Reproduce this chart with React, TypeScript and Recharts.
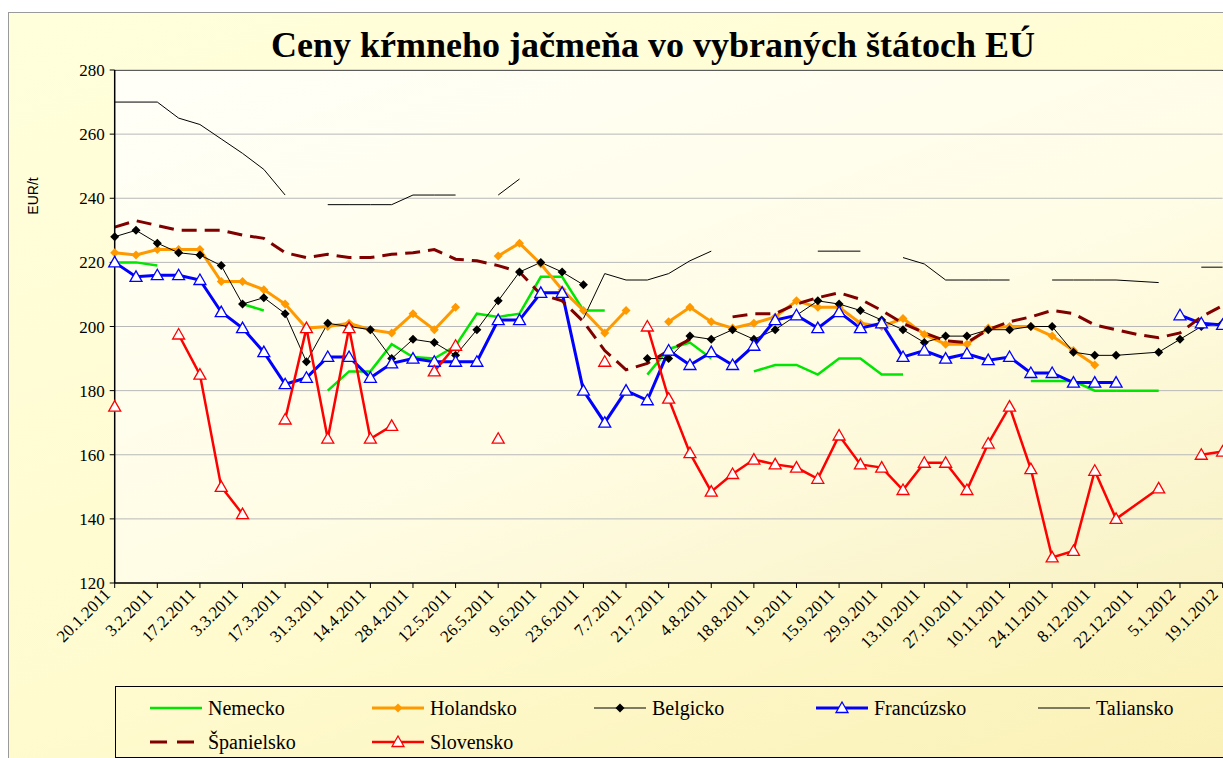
import { CartesianGrid, Line, LineChart, XAxis, YAxis } from "recharts";

// weekly quotes, Thursdays
const DATES = [
  "20.1.2011", "27.1.2011", "3.2.2011", "10.2.2011", "17.2.2011", "24.2.2011", "3.3.2011", "10.3.2011",
  "17.3.2011", "24.3.2011", "31.3.2011", "7.4.2011", "14.4.2011", "21.4.2011", "28.4.2011", "5.5.2011",
  "12.5.2011", "19.5.2011", "26.5.2011", "2.6.2011", "9.6.2011", "16.6.2011", "23.6.2011", "30.6.2011",
  "7.7.2011", "14.7.2011", "21.7.2011", "28.7.2011", "4.8.2011", "11.8.2011", "18.8.2011", "25.8.2011",
  "1.9.2011", "8.9.2011", "15.9.2011", "22.9.2011", "29.9.2011", "6.10.2011", "13.10.2011", "20.10.2011",
  "27.10.2011", "3.11.2011", "10.11.2011", "17.11.2011", "24.11.2011", "1.12.2011", "8.12.2011", "15.12.2011",
  "22.12.2011", "29.12.2011", "5.1.2012", "12.1.2012", "19.1.2012",
];

const NEMECKO = [
  220, 220, 219, null, null, null, 207, 205, null, null, 180, 186, 186, 194.5, 190.5, 190, 194, 204, 203, 204,
  215.5, 215.5, 205, 205, null, 185, 193, 195, 190, null, 186, 188, 188, 185, 190, 190, 185, 185, null, null,
  null, null, null, 183, 183, 183, 180, 180, null, 180, null, null, null,
];
const HOLANDSKO = [
  223, 222.3, 224, 224, 224, 214, 214, 211.5, 207, 199.5, 200, 201, 199, 198, 204, 199, 206, null, 222, 226,
  219.5, 211.5, 205, 198, 205, null, 201.5, 206, 201.5, 199.5, 201, 203, 208, 206, 206, 201, 200, 202.5, 197.5, 194.5,
  194.5, 199.5, 200, 200, 197, 192.5, 188, null, null, null, null, null, null,
];
const BELGICKO = [
  228, 230, 226, 223, 222.3, 219, 207, 209, 204, 189, 201, 200, 199, 190, 196, 195, 191, 199, 208, 217,
  220, 217, 213, null, null, 190, 190, 197, 196, 199, 196, 199, 203.5, 208, 207, 205, 202, 199, 195, 197,
  197, 199, 199, 200, 200, 192, 191, 191, null, 192, 196, 200, 201,
];
const FRANCUZSKO = [
  220, 215.5, 216, 216, 214.5, 204.5, 199.5, 192, 182, 184, 190.5, 190.5, 184, 188.5, 190, 189, 189, 189, 202, 202,
  210.5, 210.5, 180, 170, 180, 177, 192.5, 188, 192, 188, 194, 202, 203.5, 199.5, 204.5, 199.5, 201, 190.5, 192.5, 190,
  191.5, 189.5, 190.5, 185.5, 185.5, 182.5, 182.5, 182.5, null, null, 203.5, 201, 200.5,
];
const TALIANSKO = [
  270, 270, 270, 265, 263, 258.5, 254, 249, 241, null, 238, 238, 238, 238, 241, 241, 241, null, 241, 246,
  null, null, 202.5, 216.5, 214.5, 214.5, 216.5, 220.5, 223.5, null, null, null, null, 223.5, 223.5, 223.5, null, 221.5, 219.5, 214.5,
  214.5, 214.5, 214.5, null, 214.5, 214.5, 214.5, 214.5, null, 213.7, null, 218.5, 218.5,
];
const SPANIELSKO = [
  231, 233, 231.5, 230, 230, 230, 228.5, 227.5, 223, 221.5, 222.5, 221.5, 221.5, 222.5, 223, 224, 221, 220.5, 219, 217,
  210, 208, 201.5, 192.5, 186.5, 188.5, 192.5, 196, null, 203, 204, 204, 207, 209, 210.5, 208.5, 205, 201, 198, 195.5,
  195, 199, 201.5, 203, 205, 204, 200.5, 199, 197.5, 196.5, 198, 203, 206.5,
];
const SLOVENSKO = [
  175, null, null, 197.5, 185, 150, 141.5, null, 171, 199.5, 165, 199.5, 165, 169, null, 186, 194, null, 165, null,
  null, null, null, 189, null, 200, 177.5, 160.5, 148.5, 154, 158.5, 157, 156, 152.5, 166, 157, 156, 149, 157.5, 157.5,
  149, 163.5, 175, 155.5, 128, 130, 155, 140, null, 149.5, null, 160, 161,
];

const Y_TICKS = [120, 140, 160, 180, 200, 220, 240, 260, 280];
// 22.12.2011 has no quote, lines are drawn through it
const BRIDGE = [47, 49];

type Marker = "none" | "diamond" | "triangle";
type Serie = {
  key: string; name: string; values: (number | null)[]; color: string;
  width: number; dash?: string; marker: Marker; bridge?: boolean;
};

const SERIES: Serie[] = [
  { key: "de", name: "Nemecko", values: NEMECKO, color: "#00e600", width: 2.5, marker: "none", bridge: true },
  { key: "nl", name: "Holandsko", values: HOLANDSKO, color: "#ff9900", width: 3, marker: "diamond" },
  { key: "be", name: "Belgicko", values: BELGICKO, color: "#000000", width: 1, marker: "diamond", bridge: true },
  { key: "fr", name: "Francúzsko", values: FRANCUZSKO, color: "#0000ff", width: 3, marker: "triangle" },
  { key: "it", name: "Taliansko", values: TALIANSKO, color: "#000000", width: 1, marker: "none", bridge: true },
  { key: "es", name: "Španielsko", values: SPANIELSKO, color: "#800000", width: 3, dash: "15 8", marker: "none" },
  { key: "sk", name: "Slovensko", values: SLOVENSKO, color: "#ff0000", width: 2.5, marker: "triangle", bridge: true },
];

const rows = DATES.map((date, i) => {
  const r: Record<string, string | number | null> = { date };
  SERIES.forEach((s) => {
    r[s.key] = s.values[i];
    if (s.bridge) r[s.key + "_b"] = BRIDGE.includes(i) ? s.values[i] : null;
  });
  return r;
});

const SERIF = "'Liberation Serif', 'Times New Roman', serif";

function markerShape(m: Marker, color: string, cx: number, cy: number, key?: string) {
  if (m === "diamond")
    return <polygon key={key} points={`${cx},${cy - 4.5} ${cx + 4.5},${cy} ${cx},${cy + 4.5} ${cx - 4.5},${cy}`} fill={color} />;
  if (m === "triangle")
    return <polygon key={key} points={`${cx},${cy - 6} ${cx + 6},${cy + 4.5} ${cx - 6},${cy + 4.5}`} fill="#fff" stroke={color} strokeWidth={1.3} />;
  return <g key={key} />;
}

function makeDot(s: Serie) {
  return (p: any) => {
    const k = `${s.key}-${p.index}`;
    const v = p.payload ? p.payload[s.key] : null;
    if (v == null || p.cy == null || isNaN(p.cy)) return <g key={k} />;
    return markerShape(s.marker, s.color, p.cx, p.cy, k);
  };
}

function DateTick(props: any) {
  const { x, y, payload } = props;
  const ax = x - 7;
  const ay = y + 2;
  return (
    <text x={ax} y={ay} dy={5} textAnchor="end" transform={`rotate(-45 ${ax} ${ay})`}
      fontFamily={SERIF} fontSize={17} fill="#000">{payload.value}</text>
  );
}

function LegendBox() {
  return (
    <div style={{ position: "absolute", left: 115, top: 686, width: 1130, height: 72, border: "1px solid #000", boxSizing: "border-box" }}>
      {SERIES.map((s, i) => {
        const col = i < 5 ? i : i - 5;
        const row = i < 5 ? 0 : 1;
        return (
          <div key={s.key} style={{ position: "absolute", left: 33 + col * 222, top: 8 + row * 34, height: 26, display: "flex", alignItems: "center" }}>
            <svg width={54} height={26}>
              <line x1={1} y1={13} x2={53} y2={13} stroke={s.color} strokeWidth={s.width} strokeDasharray={s.dash ? "17 10" : undefined} />
              {markerShape(s.marker, s.color, 27, 13)}
            </svg>
            <span style={{ fontFamily: SERIF, fontSize: 20, marginLeft: 5, color: "#000" }}>{s.name}</span>
          </div>
        );
      })}
    </div>
  );
}

export default function App() {
  return (
    <div style={{ position: "absolute", left: 0, top: 0, width: 1223, height: 758, overflow: "hidden", background: "#fff" }}>
      <div style={{ position: "absolute", left: 8, top: 12, width: 1240, height: 760, borderLeft: "1px solid #9a9a9a", borderTop: "1px solid #9a9a9a",
        background: "linear-gradient(160deg, #ffffdc 0%, #fffbcf 60%, #faf0b6 100%)" }} />
      <div style={{ position: "absolute", left: 115, top: 70, width: 1130, height: 513, borderTop: "1.5px solid #000", boxSizing: "border-box",
        background: "linear-gradient(160deg, #fffff8 0%, #fffde6 55%, #f9f2c4 100%)" }} />
      <div style={{ position: "absolute", left: 0, width: 1306, top: 27, textAlign: "center", fontFamily: SERIF, fontWeight: "bold", fontSize: 36, lineHeight: "36px", color: "#000" }}>
        Ceny kŕmneho jačmeňa vo vybraných štátoch EÚ
      </div>
      <div style={{ position: "absolute", left: 33, top: 196, transform: "translate(-50%, -50%) rotate(-90deg)", fontFamily: "'Liberation Sans', Arial, sans-serif", fontSize: 14, color: "#000", whiteSpace: "nowrap" }}>
        EUR/t
      </div>
      <div style={{ position: "absolute", left: 0, top: 0 }}>
        <LineChart width={1223} height={758} data={rows} margin={{ top: 70, right: 0.4, left: 0, bottom: 0 }}>
          <CartesianGrid vertical={false} stroke="#b8b8b8" strokeWidth={1} />
          <XAxis dataKey="date" interval={1} height={175} padding={{ left: 0, right: 0 }} tick={<DateTick />}
            tickSize={5} tickLine={{ stroke: "#000" }} axisLine={{ stroke: "#000", strokeWidth: 1.5 }} />
          <YAxis width={114.7} domain={[120, 280]} ticks={Y_TICKS} allowDataOverflow tickSize={5} tickMargin={5}
            tick={{ fill: "#000", fontFamily: SERIF, fontSize: 17 }} tickLine={{ stroke: "#000" }} axisLine={{ stroke: "#000", strokeWidth: 1.5 }} />
          {SERIES.filter((s) => s.bridge).map((s) => (
            <Line key={s.key + "_b"} dataKey={s.key + "_b"} type="linear" stroke={s.color} strokeWidth={s.width} dot={false}
              activeDot={false} connectNulls isAnimationActive={false} legendType="none" />
          ))}
          {SERIES.map((s) => (
            <Line key={s.key} dataKey={s.key} name={s.name} type="linear" stroke={s.color} strokeWidth={s.width}
              strokeDasharray={s.dash} dot={makeDot(s)} activeDot={false} isAnimationActive={false} />
          ))}
        </LineChart>
      </div>
      <LegendBox />
    </div>
  );
}
